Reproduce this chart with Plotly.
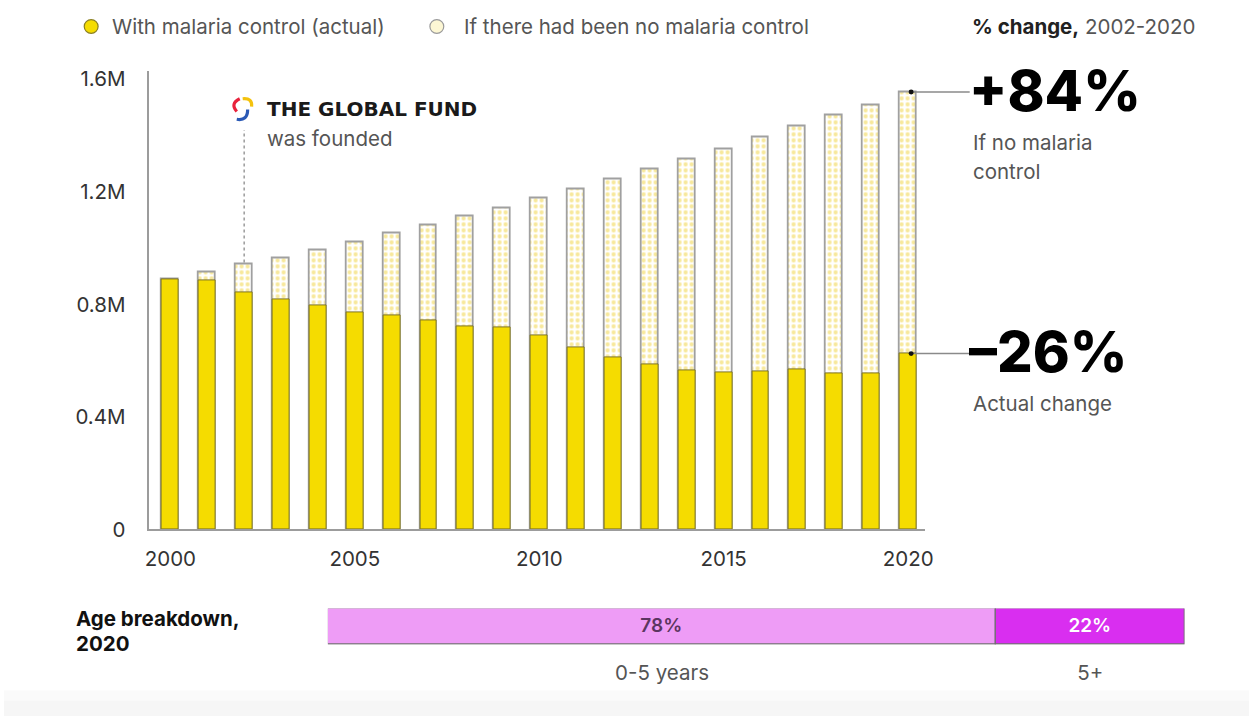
import plotly.graph_objects as go

W, H = 1257, 728

years = list(range(2000, 2021))
actual = [0.889, 0.885, 0.843, 0.819, 0.798, 0.771, 0.760, 0.743, 0.722, 0.718, 0.691,
          0.646, 0.611, 0.587, 0.566, 0.559, 0.562, 0.569, 0.555, 0.555, 0.625]
no_control = [0.889, 0.913, 0.941, 0.965, 0.993, 1.020, 1.052, 1.079, 1.111, 1.142, 1.177,
              1.208, 1.243, 1.281, 1.316, 1.350, 1.392, 1.434, 1.472, 1.506, 1.555]
actual = [v * 1e6 for v in actual]
no_control = [v * 1e6 for v in no_control]

y_ticks = [0, 0.4e6, 0.8e6, 1.2e6, 1.6e6]
y_ticklabels = ["0", "0.4M", "0.8M", "1.2M", "1.6M"]
x_ticks = [2000, 2005, 2010, 2015, 2020]

age_groups = ["0-5 years", "5+"]
age_shares = [78, 22]
age_colors = ["#ee9cf6", "#d92ef0"]
age_text_colors = ["#5b3560", "#ffffff"]

change_no_control = "+84%"
change_actual = "–26%"

FONT = "Inter"
FS = 20.5

def px(x):
    return x / W

def py(y):
    return 1 - y / H

# main plot area in pixels
X0, X1, Y0, Y1 = 146, 930, 68, 537
xr = [1999.41, 2020.46]
yr = [0, 1.628e6]

def data_to_paper_x(v):
    return px(X0 + (v - xr[0]) / (xr[1] - xr[0]) * (X1 - X0))

def data_to_paper_y(v):
    return py(Y1 - (v - yr[0]) / (yr[1] - yr[0]) * (Y1 - Y0))

fig = go.Figure()

fig.add_trace(go.Bar(
    x=years, y=no_control, width=0.46, name="If there had been no malaria control",
    marker=dict(color="white", line=dict(color="#a0a0a0", width=1.8),
                pattern=dict(shape=".", fgcolor="#efd23a", bgcolor="white", size=6, solidity=0.4)),
    xaxis="x", yaxis="y", showlegend=False, hoverinfo="skip"))
fig.add_trace(go.Bar(
    x=years, y=actual, width=0.46, name="With malaria control (actual)",
    marker=dict(color="#f5dc00", line=dict(color="#7d7424", width=1)),
    xaxis="x", yaxis="y", showlegend=False, hoverinfo="skip"))

# age breakdown bar
base = 0
for g, s, c, tc in zip(age_groups, age_shares, age_colors, age_text_colors):
    fig.add_trace(go.Bar(
        y=[0], x=[s], base=[base], orientation="h", width=1,
        marker=dict(color=c, line=dict(color="#707070", width=1.2)),
        text=[f"{s}%"], textposition="inside", insidetextanchor="middle",
        textfont=dict(family=FONT, size=19, color=tc, weight=600),
        xaxis="x2", yaxis="y2", showlegend=False, hoverinfo="skip"))
    base += s

age_centers = []
acc = 0
for s in age_shares:
    age_centers.append(acc + s / 2)
    acc += s

shapes = []
annotations = []

def text_ann(x, y, text, size=FS, color="#555555", anchor="left", **fontkw):
    annotations.append(dict(x=px(x), y=py(y), xref="paper", yref="paper", xanchor=anchor,
                            yanchor="middle", showarrow=False, text=text, align="left",
                            font=dict(family=fontkw.pop("family", FONT), size=size, color=color, **fontkw)))

# legend
shapes.append(dict(type="circle", xref="paper", yref="paper",
                   x0=px(81), x1=px(95), y0=py(29), y1=py(15),
                   fillcolor="#f5dc00", line=dict(color="#8a7f20", width=1.2)))
shapes.append(dict(type="circle", xref="paper", yref="paper",
                   x0=px(430), x1=px(444), y0=py(29), y1=py(15),
                   fillcolor="#fdf7d4", line=dict(color="#9a9a9a", width=1.2)))
text_ann(107, 22, "With malaria control (actual)")
text_ann(462, 22, "If there had been no malaria control")
text_ann(1204, 22, "<b style='color:#222'>% change,</b> 2002-2020", anchor="right")

# Global Fund annotation
shapes.append(dict(type="line", xref="x", yref="y", x0=2002, x1=2002,
                   y0=no_control[2] + 8000, y1=1.42e6,
                   line=dict(color="#8a8a8a", width=1.3, dash="dot")))
# logo (three arcs)
shapes.append(dict(type="path", xref="paper", yref="paper",
                   path=f"M {px(238)} {py(96)} Q {px(228)} {py(101)} {px(235)} {py(109)}",
                   line=dict(color="#e8223c", width=3.2)))
shapes.append(dict(type="path", xref="paper", yref="paper",
                   path=f"M {px(241)} {py(96)} Q {px(251)} {py(95)} {px(250)} {py(104)}",
                   line=dict(color="#f4c20d", width=3.2)))
shapes.append(dict(type="path", xref="paper", yref="paper",
                   path=f"M {px(246)} {py(107)} Q {px(246)} {py(119)} {px(235)} {py(117)}",
                   line=dict(color="#2a59b5", width=3.2)))
text_ann(264, 106, "<b>THE GLOBAL FUND</b>", size=20, color="#1a1a1a", family="DejaVu Sans")
text_ann(264, 137, "was founded")

# change callouts
for val, big, smalls, ybig, ysmalls in [
        (no_control[-1], change_no_control, ["If no malaria", "control"], 88, [141, 170]),
        (actual[-1], change_actual, ["Actual change"], 355, [408])]:
    yy = data_to_paper_y(val)
    xs = data_to_paper_x(years[-1]) + px(3)
    shapes.append(dict(type="line", xref="paper", yref="paper", x0=xs, x1=px(975),
                       y0=yy, y1=yy, line=dict(color="#8a8a8a", width=1.5)))
    shapes.append(dict(type="circle", xref="paper", yref="paper",
                       x0=xs - px(2.5), x1=xs + px(2.5), y0=yy - 2.5 / H, y1=yy + 2.5 / H,
                       fillcolor="#111", line=dict(color="#111", width=0)))
    text_ann(972, ybig, big, size=56, color="#000000", weight=800)
    for s, ys in zip(smalls, ysmalls):
        text_ann(976, ys, s)

# Age breakdown label
text_ann(71, 628, "<b>Age breakdown,</b>", color="#111111")
text_ann(71, 654, "<b>2020</b>", color="#111111")

# bottom grey strip
shapes.append(dict(type="rect", xref="paper", yref="paper", x0=0, x1=1, y0=0, y1=py(712),
                   fillcolor="#f6f6f6", line=dict(width=0), layer="below"))
shapes.append(dict(type="rect", xref="paper", yref="paper", x0=0, x1=1, y0=py(712), y1=py(702),
                   fillcolor="#fafafa", line=dict(width=0), layer="below"))

fig.update_layout(
    width=W, height=H,
    margin=dict(l=0, r=0, t=0, b=0),
    paper_bgcolor="white", plot_bgcolor="rgba(0,0,0,0)",
    barmode="overlay",
    font=dict(family=FONT, color="#333333"),
    xaxis=dict(domain=[px(X0), px(X1)], range=xr, tickvals=x_ticks,
               tickfont=dict(family=FONT, size=FS, color="#333333"),
               showgrid=False, zeroline=False, showline=True, linecolor="#9c9c9c", linewidth=2,
               ticks="", ticklabelstandoff=10, fixedrange=True),
    yaxis=dict(domain=[py(Y1), py(Y0)], range=yr, tickvals=y_ticks, ticktext=y_ticklabels,
               tickfont=dict(family=FONT, size=FS, color="#333333"),
               showgrid=False, zeroline=False, showline=True, linecolor="#9c9c9c", linewidth=2,
               ticks="", ticklabelstandoff=17, fixedrange=True),
    xaxis2=dict(domain=[px(327), px(1192)], range=[0, 100], anchor="y2",
                tickvals=age_centers, ticktext=age_groups,
                tickfont=dict(family=FONT, size=FS, color="#555555"),
                showgrid=False, zeroline=False, showline=False, ticks="",
                ticklabelstandoff=14, fixedrange=True),
    yaxis2=dict(domain=[py(655), py(618)], range=[-0.5, 0.5], anchor="x2",
                showticklabels=False, showgrid=False, zeroline=False, showline=False,
                fixedrange=True),
    shapes=shapes,
    annotations=annotations,
    bargap=0,
)

fig.write_html("out.html")
